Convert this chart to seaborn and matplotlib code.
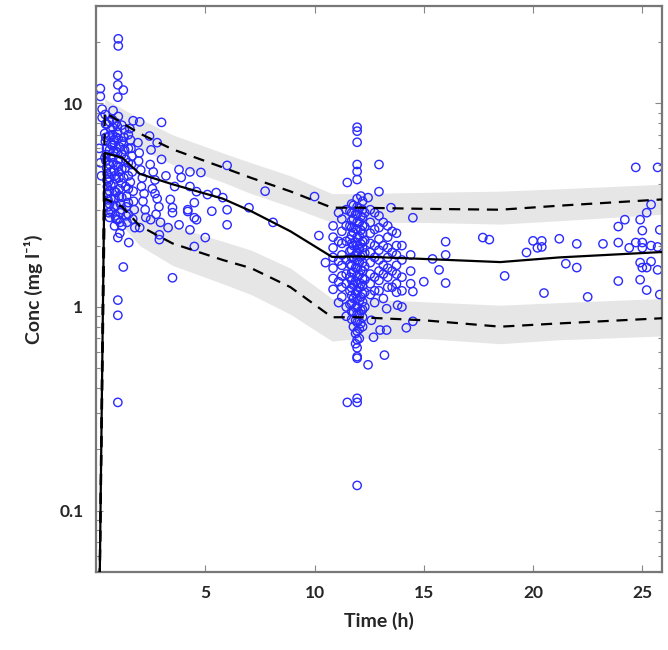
import numpy as np
import pandas as pd
import seaborn as sns
import matplotlib.pyplot as plt
from matplotlib.ticker import FixedLocator, FixedFormatter, LogLocator, NullFormatter

# Percentile curves (5th, 50th, 95th) of the simulated profiles
bin_time = [0.15, 0.4, 1.2, 2.0, 3.5, 5.8, 7.1, 8.9, 10.8, 12.0, 15.0, 18.5, 21.2, 25.9]
p50 = [0.03, 5.7, 5.4, 4.5, 4.0, 3.4, 2.95, 2.35, 1.76, 1.77, 1.72, 1.66, 1.75, 1.86]
p05 = [0.03, 3.4, 3.1, 2.5, 2.05, 1.7, 1.55, 1.25, 0.89, 0.89, 0.86, 0.80, 0.83, 0.88]
p95 = [0.03, 9.0, 8.0, 7.1, 5.94, 4.84, 4.3, 3.69, 3.07, 3.07, 3.03, 3.0, 3.14, 3.37]

# Confidence bands around the outer percentiles (from bin_time[1:] onwards)
p95_lo = [7.6, 6.8, 6.0, 5.0, 4.1, 3.6, 3.1, 2.6, 2.6, 2.6, 2.55, 2.65, 2.85]
p95_hi = [10.5, 9.4, 8.4, 7.0, 5.7, 5.1, 4.4, 3.6, 3.6, 3.65, 3.7, 3.8, 4.0]
p05_lo = [2.8, 2.5, 2.0, 1.6, 1.3, 1.15, 0.92, 0.68, 0.70, 0.70, 0.66, 0.69, 0.72]
p05_hi = [4.0, 3.7, 3.0, 2.5, 2.1, 1.9, 1.55, 1.1, 1.1, 1.06, 1.02, 1.05, 1.1]

# Observed concentrations - dense absorption phase
early_time = [0.42, 0.48, 0.51, 0.44, 0.55, 0.47, 0.52, 0.40, 0.58, 0.46, 0.50, 0.43, 0.56, 0.49, 0.53, 0.45, 0.41, 0.57,
              0.78, 0.82, 0.75, 0.86, 0.80, 0.84, 0.77, 0.88, 0.79, 0.83, 0.76, 0.81, 0.85, 0.74, 0.87, 0.80, 0.78, 0.83,
              1.02, 1.08, 1.05, 0.98, 1.12, 1.04, 1.10, 0.99, 1.06, 1.01, 1.09, 1.03, 1.11, 1.00, 1.07, 1.05,
              1.30, 1.36, 1.28, 1.40, 1.33, 1.38, 1.25, 1.42, 1.31, 1.35, 1.27, 1.39,
              1.55, 1.62, 1.70, 1.58, 1.75, 1.66, 1.60, 1.78, 1.64, 1.72, 1.57, 1.68,
              1.92, 2.05, 2.20, 1.98, 2.28, 2.12, 1.95, 2.25, 2.08, 2.15,
              2.45, 2.62, 2.80, 2.52, 2.95, 2.70, 2.48, 2.88, 2.58, 2.75]
early_conc = [8.8, 6.0, 4.5, 7.9, 3.35, 5.6, 3.9, 7.1, 2.9, 5.2, 4.2, 6.5, 3.1, 4.8, 3.6, 6.8, 5.4, 4.1,
              9.2, 6.6, 8.3, 4.4, 5.5, 3.7, 7.6, 2.8, 5.1, 3.1, 7.0, 4.7, 2.5, 6.2, 3.4, 5.8, 4.0, 6.4,
              8.6, 6.1, 4.6, 7.7, 3.2, 5.3, 2.6, 7.2, 3.8, 6.7, 2.3, 4.9, 2.9, 5.7, 3.5, 4.3,
              7.4, 5.3, 6.8, 3.5, 4.8, 2.8, 6.3, 2.6, 5.9, 3.9, 4.3, 3.1,
              7.5, 5.0, 3.7, 6.6, 3.0, 4.6, 6.0, 2.45, 5.5, 3.3, 4.1, 2.7,
              6.4, 4.7, 3.6, 5.7, 2.75, 4.3, 5.2, 3.0, 3.9, 3.3,
              6.9, 4.6, 3.4, 5.9, 2.6, 4.2, 5.0, 3.1, 3.8, 2.85]
early_fill_time = [0.62] * 8 + [0.68] * 7 + [0.92] * 8 + [1.18] * 8 + [1.48] * 7
early_fill_conc = [8.1, 6.9, 5.9, 5.0, 4.3, 3.7, 3.2, 2.75,
                   7.4, 6.3, 5.4, 4.6, 3.95, 3.4, 2.95,
                   8.0, 6.8, 5.8, 4.95, 4.25, 3.65, 3.15, 2.7,
                   7.8, 6.5, 5.6, 4.75, 4.05, 3.45, 3.0, 2.5,
                   7.0, 6.0, 5.1, 4.4, 3.8, 3.25, 2.85]

# Outlying early samples
early_out_time = [1.02, 1.02, 1.0, 1.0, 1.25, 1.0, 0.2, 0.2, 0.28, 0.28, 0.5, 1.7, 2.0, 3.0, 2.8,
                  1.0, 1.0, 1.5, 1.25, 3.5, 1.0, 1.0, 1.0, 0.15, 0.2, 0.25]
early_out_conc = [20.7, 19.1, 13.7, 12.3, 11.6, 10.7, 11.8, 10.8, 9.35, 8.5, 7.9, 8.2, 8.1, 8.05, 6.4,
                  2.68, 2.19, 2.07, 1.57, 1.39, 1.08, 0.91, 0.34, 6.0, 5.1, 4.4]

# Elimination phase before the second dose
mid_time = [2.5, 2.0, 2.9, 2.9, 3.8, 4.3, 4.6, 5.0, 4.5, 6.0, 4.2, 3.5, 3.5, 4.3, 4.8, 3.8, 3.9, 4.3,
            4.6, 5.1, 5.5, 5.8, 6.0, 7.0, 4.5, 4.2, 3.4, 4.5, 6.0, 7.74, 8.1, 3.2, 3.6, 2.7, 3.0, 3.3,
            5.3, 10.0, 10.2, 10.5]
mid_conc = [2.68, 2.45, 2.26, 2.14, 2.53, 2.39, 2.68, 2.19, 1.98, 2.53, 2.94, 3.07, 2.9, 4.6, 4.57, 4.72, 4.32, 3.9,
            3.68, 3.56, 3.64, 3.44, 3.0, 3.07, 3.25, 3.0, 3.37, 2.74, 4.95, 3.7, 2.6, 4.4, 3.9, 3.6, 5.3, 2.45,
            2.95, 3.48, 2.24, 1.65]

# Trough samples around 12 h (dense column)
trough_time = [11.95] * 21 + [11.7] * 16 + [12.2] * 17 + [10.85] * 7 + [11.25] * 8 + [12.55] * 9 + [12.95] * 8 + [13.35] * 7 + [13.75] * 7
trough_conc = [3.4, 3.1, 2.85, 2.6, 2.4, 2.2, 2.0, 1.85, 1.7, 1.55, 1.42, 1.3, 1.2, 1.1, 1.0, 0.92, 0.84, 0.76, 0.69, 0.63, 0.57,
               3.2, 2.9, 2.65, 2.45, 2.25, 2.05, 1.9, 1.75, 1.6, 1.47, 1.35, 1.24, 1.14, 1.04, 0.95, 0.87,
               3.3, 3.0, 2.75, 2.5, 2.3, 2.1, 1.95, 1.8, 1.65, 1.5, 1.38, 1.27, 1.16, 1.06, 0.97, 0.89, 0.8,
               2.5, 2.2, 1.95, 1.75, 1.55, 1.38, 1.22,
               2.7, 2.35, 2.05, 1.8, 1.6, 1.42, 1.25, 1.12,
               3.0, 2.6, 2.3, 2.05, 1.85, 1.65, 1.45, 1.3, 1.15,
               2.8, 2.45, 2.15, 1.9, 1.7, 1.5, 1.35, 1.2,
               2.5, 2.2, 1.95, 1.75, 1.55, 1.4, 1.25,
               2.3, 2.0, 1.8, 1.6, 1.45, 1.3, 1.18]
trough_fill_time = ([11.62] * 8 + [11.78] * 10 + [11.88] * 11 + [12.05] * 11 + [12.12] * 10 + [12.3] * 8 +
                    [11.1] * 5 + [11.45] * 8 + [12.75] * 7 + [13.15] * 5 + [13.55] * 4 + [14.0] * 4 + [14.4] * 3)
trough_fill_conc = [2.95, 2.5, 2.15, 1.88, 1.62, 1.4, 1.2, 1.03,
                    3.15, 2.7, 2.32, 2.0, 1.72, 1.48, 1.28, 1.1, 0.94, 0.8,
                    2.85, 2.42, 2.08, 1.8, 1.56, 1.34, 1.16, 0.99, 0.86, 0.74, 0.66,
                    3.05, 2.6, 2.22, 1.92, 1.66, 1.44, 1.24, 1.07, 0.92, 0.78, 0.7,
                    3.5, 2.78, 2.38, 2.04, 1.76, 1.52, 1.3, 1.12, 0.96, 0.83,
                    2.9, 2.48, 2.12, 1.84, 1.58, 1.36, 1.18, 1.0,
                    2.9, 2.1, 1.68, 1.33, 1.05,
                    3.0, 2.5, 2.1, 1.7, 1.45, 1.3, 1.0, 0.9,
                    2.9, 2.4, 2.0, 1.75, 1.4, 1.2, 1.05,
                    2.6, 2.0, 1.6, 1.45, 1.1,
                    2.35, 1.85, 1.5, 1.25,
                    2.0, 1.7, 1.4, 1.2,
                    1.8, 1.5, 1.3]

# Scattered samples around the trough
trough_out_time = [11.95, 11.95, 11.95, 12.95, 11.95, 11.95, 11.95, 11.5, 12.45, 12.95, 13.5, 14.5, 16.0, 16.0,
                   16.0, 15.4, 15.7, 15.0, 14.5, 14.2, 14.5, 13.0, 13.3, 12.7, 13.2, 12.45, 11.95, 11.95,
                   11.95, 11.5, 11.95, 13.8, 14.0, 13.3, 12.6]
trough_out_conc = [7.62, 7.29, 6.43, 5.0, 5.0, 4.62, 4.22, 4.08, 3.44, 3.68, 3.07, 2.74, 2.09, 1.8,
                   1.31, 1.72, 1.52, 1.33, 1.19, 0.79, 0.85, 0.77, 0.77, 0.71, 0.58, 0.52, 0.56, 0.356,
                   0.34, 0.34, 0.133, 1.02, 1.0, 0.98, 0.86]

# Late samples after 17 h
late_time = [17.7, 18.0, 18.7, 20.0, 20.4, 20.2, 20.4, 19.7, 21.2, 22.0, 21.5, 22.0, 20.5, 22.5, 23.2, 23.9,
             23.9, 24.7, 25.7, 23.9, 24.2, 24.9, 25.2, 25.4, 25.0, 24.4, 24.7, 25.0, 25.0, 25.4, 25.7, 24.9,
             25.0, 25.2, 25.4, 25.7, 24.9, 25.2, 25.8, 25.8]
late_conc = [2.19, 2.14, 1.42, 2.11, 2.11, 1.95, 1.97, 1.85, 2.16, 2.04, 1.63, 1.56, 1.17, 1.12, 2.04, 2.07,
             1.34, 4.84, 4.84, 2.48, 2.68, 2.68, 2.9, 3.18, 2.37, 1.95, 2.07, 2.07, 1.95, 2.0, 1.97, 1.65,
             1.56, 1.56, 1.67, 1.52, 1.36, 1.21, 2.39, 1.15]

obs = pd.DataFrame({
    'Time': (early_time + early_fill_time + early_out_time + mid_time + trough_time + trough_fill_time
             + trough_out_time + late_time),
    'Conc': (early_conc + early_fill_conc + early_out_conc + mid_conc + trough_conc + trough_fill_conc
             + trough_out_conc + late_conc),
})
curves = pd.DataFrame({'Time': bin_time, 'p05': p05, 'p50': p50, 'p95': p95})

sns.set_style('ticks')
plt.rcParams['font.family'] = ['Lato', 'DejaVu Sans']

fig = plt.figure(figsize=(6.68, 6.5), dpi=100)
ax = fig.add_axes([0.1437, 0.12, 0.8473, 0.8708])

# Grey prediction intervals around the 5th and 95th percentiles
band_t = bin_time[1:]
for lo, hi in [(p95_lo, p95_hi), (p05_lo, p05_hi)]:
    ax.fill_between(band_t, lo, hi, color='#e6e6e6', linewidth=0, zorder=1)

# Observations
sns.scatterplot(data=obs, x='Time', y='Conc', ax=ax, marker='o', s=36,
                facecolors='none', edgecolor='#2a2aff', linewidth=1.0, zorder=2)

# Percentile lines
sns.lineplot(data=curves, x='Time', y='p50', ax=ax, color='black', lw=1.6, zorder=3)
sns.lineplot(data=curves, x='Time', y='p05', ax=ax, color='black', lw=1.6, zorder=3)
sns.lineplot(data=curves, x='Time', y='p95', ax=ax, color='black', lw=1.6, zorder=3)
for line in ax.lines[1:]:
    line.set_dashes((5, 3.5))

ax.set_yscale('log')
ax.set_xlim(0, 25.9)
ax.set_ylim(0.05, 30)

ax.xaxis.set_major_locator(FixedLocator([5, 10, 15, 20, 25]))
ax.yaxis.set_major_locator(FixedLocator([0.1, 1, 10]))
ax.yaxis.set_major_formatter(FixedFormatter(['0.1', '1', '10']))
ax.yaxis.set_minor_locator(LogLocator(base=10, subs=np.arange(2, 10)))
ax.yaxis.set_minor_formatter(NullFormatter())

ax.tick_params(which='both', direction='in', top=True, right=True, color='#888888', width=0.8)
ax.tick_params(which='major', length=5, labelsize=12.5, pad=9)
ax.tick_params(which='minor', length=3)
for lab in ax.get_xticklabels() + ax.get_yticklabels():
    lab.set_fontweight('bold')
for sp in ax.spines.values():
    sp.set_color('#777777')
    sp.set_linewidth(1.6)

ax.set_xlabel('Time (h)', fontsize=14, fontweight='bold', labelpad=8)
ax.set_ylabel('Conc (mg l⁻¹)', fontsize=14, fontweight='bold', labelpad=12)

fig.savefig('out.png', dpi=100)
